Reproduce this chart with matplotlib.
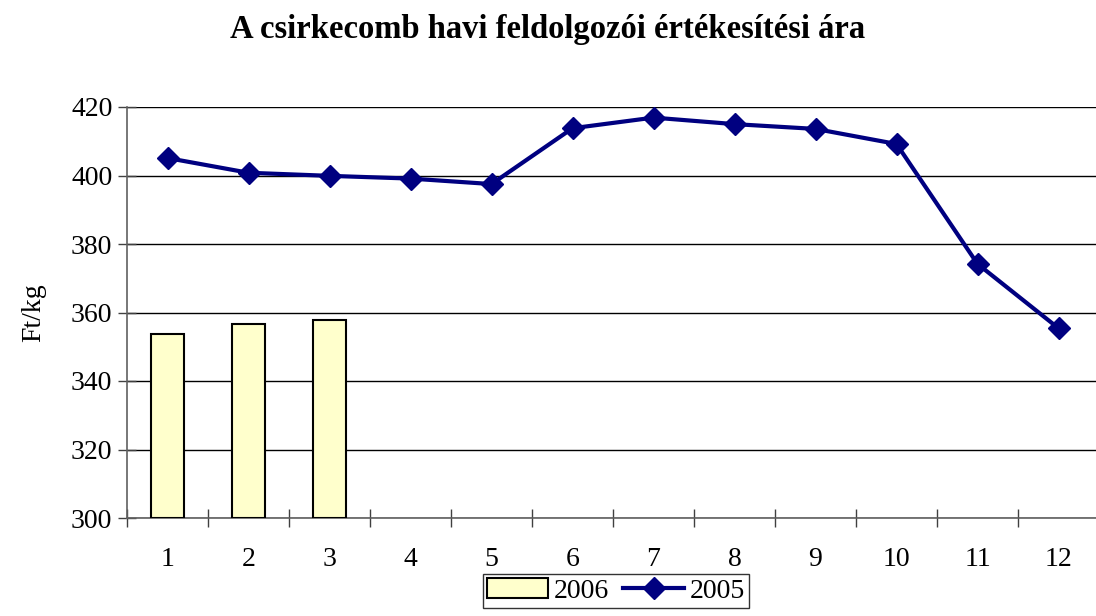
import matplotlib
matplotlib.use("Agg")
import matplotlib.pyplot as plt
import numpy as np

months = ["1", "2", "3", "4", "5", "6", "7", "8", "9", "10", "11", "12"]
values_2006 = [353.7, 356.6, 357.8]
values_2005 = [405.1, 400.8, 399.9, 399.1, 397.5, 413.8, 416.9, 415.0, 413.6, 409.2, 374.2, 355.4]
yticks = [300, 320, 340, 360, 380, 400, 420]

plt.rcParams['font.family'] = ['Liberation Serif', 'DejaVu Serif']

fig = plt.figure(figsize=(10.96, 6.16), dpi=100)
ax = fig.add_axes([127/1096, 1-518/616, (1099-127)/1096, (518-107)/616])

x = np.arange(len(months))
bars = ax.bar(x[:len(values_2006)], [v - 300 for v in values_2006], bottom=300, width=0.41,
              color='#FFFFCC', edgecolor='black', linewidth=1.5, label='2006', zorder=3)
line, = ax.plot(x, values_2005, color='#000080', linewidth=3, marker='D', markersize=11,
                label='2005', zorder=4)

ax.set_xlim(-0.5, len(months) - 0.5)
ax.set_ylim(300, 420)
ax.set_yticks(yticks)
ax.set_yticklabels([str(t) for t in yticks])
ax.yaxis.grid(True, color='black', linewidth=1)
ax.set_axisbelow(True)

ax.set_xticks(x)
ax.set_xticklabels(months)
ax.set_xticks(np.arange(-0.5, len(months), 1.0), minor=True)
ax.tick_params(axis='x', which='major', length=0, pad=21, labelsize=20)
ax.tick_params(axis='x', which='minor', length=13, direction='inout', color='#404040', width=1)
ax.tick_params(axis='y', length=13, direction='inout', color='#404040', width=1, labelsize=20, pad=4)

for s in ['top', 'right']:
    ax.spines[s].set_visible(False)
for s in ['left', 'bottom']:
    ax.spines[s].set_color('#606060')
    ax.spines[s].set_linewidth(1.2)

ax.set_ylabel('Ft/kg', fontsize=20, labelpad=18)
fig.suptitle('A csirkecomb havi feldolgozói értékesítési ára', fontsize=23.5, fontweight='bold', y=0.977)

leg = fig.legend([bars, line], ['2006', '2005'], loc='upper center',
                 bbox_to_anchor=(616/1096, 1-574/616), ncol=2,
                 fontsize=20, frameon=True, fancybox=False, edgecolor='black',
                 handlelength=2.2, columnspacing=0.5, handletextpad=0.2, borderpad=0.15,
                 borderaxespad=0)
leg.get_frame().set_linewidth(1)

fig.savefig('out.png', dpi=100)
